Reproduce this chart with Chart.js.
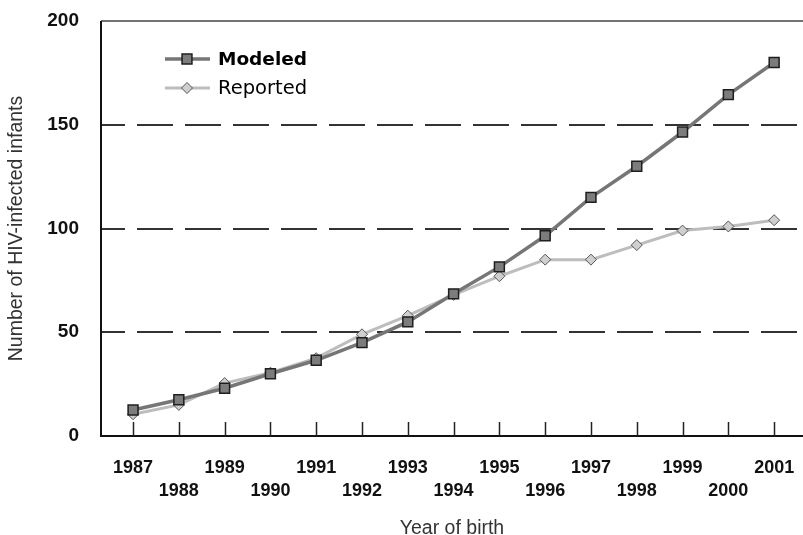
<!DOCTYPE html>
<html>
<head>
<meta charset="utf-8">
<script src="https://cdn.jsdelivr.net/npm/chart.js@4/dist/chart.umd.min.js"></script>
<style>
  body { margin: 0; background: #fff; }
  canvas { display: block; }
</style>
</head>
<body>
<canvas id="hivChart" width="803" height="535"></canvas>
<script>
// values
var years = [1987, 1988, 1989, 1990, 1991, 1992, 1993, 1994, 1995, 1996, 1997, 1998, 1999, 2000, 2001];
var modeled = [12.5, 17.5, 23, 30, 36.5, 45, 55, 68.5, 81.5, 96.5, 115, 130, 146.5, 164.5, 180];
var reported = [10.5, 15, 25.5, 30.5, 37.5, 49, 58, 68, 77, 85, 85, 92, 99, 101, 104];
var yTicks = [0, 50, 100, 150, 200];

var fontFamily = '"Liberation Sans", Arial, sans-serif';
var legendFamily = '"DejaVu Sans", Verdana, sans-serif';

function points(vals) {
    return years.map(function(yr, i) { return { x: yr, y: vals[i] }; });
}

// frame, dashed reference lines and the little inward ticks on the x axis
var framePlugin = {
    id: 'frame',
    beforeDatasetsDraw: function(chart) {
        var ctx = chart.ctx, a = chart.chartArea;
        var xs = chart.scales.x, ys = chart.scales.y;
        ctx.save();
        ctx.strokeStyle = '#333';
        ctx.lineWidth = 2;
        ctx.setLineDash([36, 12]);
        ctx.lineDashOffset = 12;
        yTicks.slice(1, -1).forEach(function(v) {
            var py = Math.round(ys.getPixelForValue(v));
            ctx.beginPath();
            ctx.moveTo(a.left, py);
            ctx.lineTo(a.right, py);
            ctx.stroke();
        });
        ctx.setLineDash([]);
        // top line
        ctx.strokeStyle = '#444';
        ctx.lineWidth = 1.5;
        var top = Math.round(ys.getPixelForValue(yTicks[yTicks.length - 1]));
        ctx.beginPath();
        ctx.moveTo(a.left, top);
        ctx.lineTo(a.right, top);
        ctx.stroke();
        // axes
        ctx.strokeStyle = '#111';
        ctx.lineWidth = 2;
        var bottom = Math.round(ys.getPixelForValue(0));
        ctx.beginPath();
        ctx.moveTo(a.left, top);
        ctx.lineTo(a.left, bottom);
        ctx.lineTo(a.right, bottom);
        ctx.stroke();
        // ticks
        ctx.lineWidth = 1.5;
        ctx.strokeStyle = '#222';
        years.forEach(function(yr) {
            var px = Math.round(xs.getPixelForValue(yr)) + 0.5;
            ctx.beginPath();
            ctx.moveTo(px, bottom);
            ctx.lineTo(px, bottom - 14);
            ctx.stroke();
        });
        ctx.restore();
    },
    afterDatasetsDraw: function(chart) {
        // legend inside the plot
        var ctx = chart.ctx, a = chart.chartArea;
        var x0 = a.left + 64, rowY = [a.top + 38, a.top + 67];
        var fonts = ['bold 18.5px ', 'normal 19.5px '];
        ctx.save();
        chart.data.datasets.forEach(function(ds, i) {
            var y = rowY[i];
            ctx.strokeStyle = ds.borderColor;
            ctx.lineWidth = ds.borderWidth;
            ctx.beginPath();
            ctx.moveTo(x0, y);
            ctx.lineTo(x0 + 45, y);
            ctx.stroke();
            ctx.fillStyle = ds.pointBackgroundColor;
            ctx.strokeStyle = ds.pointBorderColor;
            ctx.lineWidth = ds.pointBorderWidth;
            Chart.helpers.drawPoint(ctx, {
                pointStyle: ds.pointStyle,
                radius: ds.pointRadius,
                rotation: 0,
                borderWidth: ds.pointBorderWidth
            }, x0 + 22, y);
            ctx.fillStyle = '#000';
            ctx.font = fonts[i] + legendFamily;
            ctx.textBaseline = 'middle';
            ctx.textAlign = 'left';
            ctx.fillText(ds.label, x0 + 53, y + 1);
        });
        ctx.restore();
    }
};

var ctx = document.getElementById('hivChart').getContext('2d');
var hivChart = new Chart(ctx, {
    type: 'line',
    data: {
        datasets: [{
            label: 'Modeled',
            data: points(modeled),
            borderColor: '#767676',
            borderWidth: 3.5,
            pointStyle: 'rect',
            pointRadius: 7,
            pointBackgroundColor: '#7c7c7c',
            pointBorderColor: '#1e1e1e',
            pointBorderWidth: 1.5,
            tension: 0,
            fill: false
        }, {
            label: 'Reported',
            data: points(reported),
            borderColor: '#bdbdbd',
            borderWidth: 3,
            pointStyle: 'rectRot',
            pointRadius: 5.5,
            pointBackgroundColor: '#cfcfcf',
            pointBorderColor: '#555',
            pointBorderWidth: 1,
            tension: 0,
            fill: false
        }]
    },
    options: {
        responsive: false,
        animation: false,
        layout: { autoPadding: false, padding: { top: 21, right: 0, left: 0, bottom: 0 } },
        plugins: {
            legend: { display: false },
            tooltip: { enabled: false }
        },
        scales: {
            x: {
                type: 'linear',
                min: 1986.3,
                max: 2001.63,
                grid: { display: false },
                border: { display: false },
                afterFit: function(scale) {
                    scale.height = 99;
                    scale.paddingLeft = 0;
                    scale.paddingRight = 0;
                },
                ticks: {
                    stepSize: 1,
                    includeBounds: false,
                    autoSkip: false,
                    maxRotation: 0,
                    padding: 12,
                    color: '#111',
                    font: { family: fontFamily, size: 18, weight: 'bold', lineHeight: 1.3 },
                    callback: function(value) {
                        var s = String(value);
                        return (value - years[0]) % 2 === 0 ? [s, ''] : ['', s];
                    }
                },
                title: {
                    display: true,
                    text: 'Year of birth',
                    color: '#333',
                    padding: { top: 0, bottom: -5 },
                    font: { family: fontFamily, size: 19.5 }
                }
            },
            y: {
                min: 0,
                max: 200,
                grid: { display: false },
                border: { display: false },
                afterFit: function(scale) {
                    scale.width = 101;
                    scale.paddingTop = 0;
                    scale.paddingBottom = 0;
                },
                afterBuildTicks: function(scale) {
                    scale.ticks = yTicks.map(function(v) { return { value: v }; });
                },
                ticks: {
                    padding: 14,
                    color: '#111',
                    font: { family: fontFamily, size: 19, weight: 'bold' }
                },
                title: {
                    display: true,
                    text: 'Number of HIV-infected infants',
                    color: '#333',
                    padding: { top: 5, bottom: 0 },
                    font: { family: fontFamily, size: 19.5 }
                }
            }
        }
    },
    plugins: [framePlugin]
});
</script>
</body>
</html>
